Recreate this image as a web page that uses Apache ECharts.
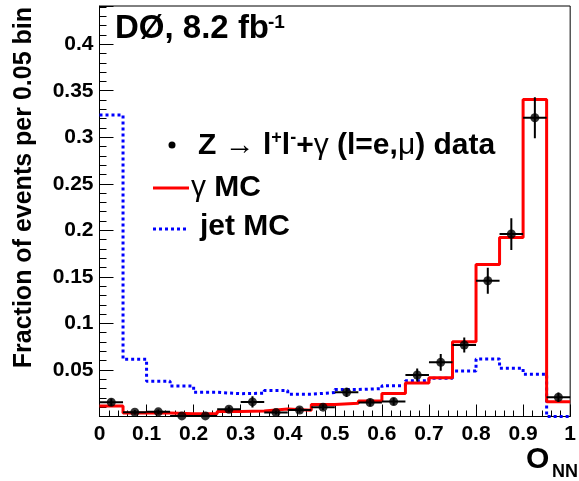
<!DOCTYPE html>
<html>
<head>
<meta charset="utf-8">
<script src="https://cdn.jsdelivr.net/npm/echarts@6/dist/echarts.min.js"></script>
<style>
html,body{margin:0;padding:0;background:#fff;}
#c{width:579px;height:481px;}
</style>
</head>
<body>
<div id="c"></div>
<script>
// Bin lower edges (bin width 0.05)
const binLow = [0, 0.05, 0.1, 0.15, 0.2, 0.25, 0.3, 0.35, 0.4, 0.45, 0.5, 0.55, 0.6, 0.65, 0.7, 0.75, 0.8, 0.85, 0.9, 0.95];
const binWidth = 0.05;
// gamma MC histogram
const gammaMC = [0.0112, 0.0038, 0.0038, 0.003, 0.003, 0.0053, 0.006, 0.008, 0.0068, 0.013, 0.0143, 0.0167, 0.0247, 0.036, 0.0415, 0.0804, 0.1634, 0.1924, 0.3405, 0.0158];
// jet MC histogram
const jetMC = [0.324, 0.0615, 0.038, 0.0328, 0.026, 0.0245, 0.025, 0.0278, 0.024, 0.0257, 0.029, 0.030, 0.033, 0.0385, 0.041, 0.049, 0.0618, 0.0518, 0.0454, 0];
// Z -> ll+gamma data and errors
const dataVals = [0.0153, 0.0046, 0.005, 0.0006, 0.0006, 0.0078, 0.0157, 0.0042, 0.007, 0.0100, 0.026, 0.015, 0.016, 0.0446, 0.0582, 0.0768, 0.1458, 0.196, 0.321, 0.0207];
const dataErrs = [0.004, 0.0025, 0.0025, 0.001, 0.001, 0.003, 0.006, 0.002, 0.003, 0.003, 0.005, 0.004, 0.004, 0.007, 0.009, 0.008, 0.014, 0.017, 0.022, 0.005];
// Axis ranges
const xRange = [0, 1];
const yRange = [0, 0.441];
const xTickStep = 0.1;
const yTickStep = 0.05;
// Texts
const yTitle = 'Fraction of events per 0.05 bin';
const xTitleMain = 'O';
const xTitleSub = 'NN';
const experimentLabel = 'DØ, 8.2 fb';
const expSup = '-1';
const legendGammaTxt = ' MC';
const legendJetTxt = 'jet MC';

function stepData(vals) {
  const out = binLow.map((x, i) => [x, vals[i]]);
  out.push([binLow[binLow.length - 1] + binWidth, vals[vals.length - 1]]);
  return out;
}
const pts = binLow.map((x, i) => [x + binWidth / 2, dataVals[i], dataErrs[i]]);

const FONT = '"Liberation Sans", Arial, Helvetica, sans-serif';
const chart = echarts.init(document.getElementById('c'), null, {renderer: 'canvas'});

const fmt = v => String(parseFloat(v.toFixed(3)));

chart.setOption({
  animation: false,
  backgroundColor: '#fff',
  grid: {left: 99.5, right: 2, top: 6, bottom: 64.5, show: true, borderColor: '#000', borderWidth: 1, backgroundColor: 'transparent'},
  xAxis: {
    type: 'value', min: xRange[0], max: xRange[1], interval: xTickStep,
    axisLine: {show: true, onZero: false, lineStyle: {color: '#000', width: 1}},
    axisTick: {show: true, inside: true, length: 12, lineStyle: {color: '#000', width: 1}},
    minorTick: {show: true, splitNumber: 5, length: 6, lineStyle: {color: '#000', width: 1}},
    splitLine: {show: false},
    axisLabel: {color: '#000', fontFamily: FONT, fontWeight: 'bold', fontSize: 21, margin: 7, formatter: fmt, showMaxLabel: true, showMinLabel: true}
  },
  yAxis: {
    type: 'value', min: yRange[0], max: yRange[1], interval: yTickStep,
    axisLine: {show: true, onZero: false, lineStyle: {color: '#000', width: 1}},
    axisTick: {show: true, inside: true, length: 14, lineStyle: {color: '#000', width: 1}},
    minorTick: {show: true, splitNumber: 5, length: 7, lineStyle: {color: '#000', width: 1}},
    splitLine: {show: false},
    axisLabel: {color: '#000', fontFamily: FONT, fontWeight: 'bold', fontSize: 21, margin: 6,
      formatter: v => (Math.abs(v) < 1e-9 ? '' : fmt(v)), showMaxLabel: false}
  },
  series: [
    {
      name: 'jet MC', type: 'line', step: 'end', data: stepData(jetMC), symbol: 'none', z: 2,
      lineStyle: {color: '#0000ff', width: 3, type: [3, 3], cap: 'butt'}
    },
    {
      name: 'gamma MC', type: 'line', step: 'end', data: stepData(gammaMC), symbol: 'none', z: 3,
      lineStyle: {color: '#ff0000', width: 3}
    },
    {
      name: 'data errors', type: 'custom', z: 4, clip: true,
      data: pts,
      renderItem: function (params, api) {
        const x = api.value(0), y = api.value(1), e = api.value(2);
        const l = api.coord([x - binWidth / 2, y]);
        const r = api.coord([x + binWidth / 2, y]);
        const t = api.coord([x, y + e]);
        const b = api.coord([x, Math.max(y - e, 0)]);
        const st = {stroke: '#000', lineWidth: 2};
        return {type: 'group', children: [
          {type: 'line', shape: {x1: l[0], y1: l[1], x2: r[0], y2: r[1]}, style: st},
          {type: 'line', shape: {x1: t[0], y1: t[1], x2: b[0], y2: b[1]}, style: st}
        ]};
      }
    },
    {
      name: 'data', type: 'scatter', z: 5, data: pts.map(p => [p[0], p[1]]),
      symbol: 'circle', symbolSize: 9, itemStyle: {color: '#000'}
    }
  ],
  graphic: [
    {type: 'text', x: 24, y: 7, rotation: Math.PI / 2,
      style: {text: yTitle, font: 'bold 25px ' + FONT, fill: '#000', textAlign: 'right', textVerticalAlign: 'middle'}},
    {type: 'text', x: 526, y: 460,
      style: {text: xTitleMain, font: 'bold 30px ' + FONT, fill: '#000', textAlign: 'left', textVerticalAlign: 'middle'}},
    {type: 'text', x: 552, y: 472,
      style: {text: xTitleSub, font: 'bold 18px ' + FONT, fill: '#000', textAlign: 'left', textVerticalAlign: 'middle'}},
    {type: 'text', x: 115, y: 29,
      style: {text: experimentLabel, font: 'bold 33px ' + FONT, fill: '#000', textAlign: 'left', textVerticalAlign: 'middle'}},
    {type: 'text', x: 268, y: 23,
      style: {text: expSup, font: 'bold 19px ' + FONT, fill: '#000', textAlign: 'left', textVerticalAlign: 'middle'}},
    // legend
    {type: 'circle', shape: {cx: 172, cy: 145, r: 3.5}, style: {fill: '#000'}},
    {type: 'text', x: 198, y: 145,
      style: {
        text: '{b|Z }{n|→ }{b|l}{s|+}{b|l}{s|-}{b|+}{n|γ}{b| (l=e,}{n|μ}{b|) data}',
        textAlign: 'left', textVerticalAlign: 'middle',
        rich: {
          b: {font: 'bold 30px ' + FONT, fill: '#000', lineHeight: 32, verticalAlign: 'bottom'},
          n: {font: '30px ' + FONT, fill: '#000', lineHeight: 32, verticalAlign: 'bottom'},
          s: {font: 'bold 18px ' + FONT, fill: '#000', lineHeight: 32, verticalAlign: 'top'}
        }
      }},
    {type: 'line', shape: {x1: 153, y1: 188, x2: 189, y2: 188}, style: {stroke: '#ff0000', lineWidth: 3}},
    {type: 'text', x: 191, y: 187,
      style: {
        text: '{n|γ}{b|' + legendGammaTxt + '}', textAlign: 'left', textVerticalAlign: 'middle',
        rich: {
          b: {font: 'bold 30px ' + FONT, fill: '#000', lineHeight: 32, verticalAlign: 'bottom'},
          n: {font: '30px ' + FONT, fill: '#000', lineHeight: 32, verticalAlign: 'bottom'}
        }
      }},
    {type: 'line', shape: {x1: 153, y1: 229, x2: 189, y2: 229}, style: {stroke: '#0000ff', lineWidth: 3, lineDash: [3, 3]}},
    {type: 'text', x: 200, y: 227,
      style: {text: legendJetTxt, font: 'bold 30px ' + FONT, fill: '#000', textAlign: 'left', textVerticalAlign: 'middle'}}
  ]
});
</script>
</body>
</html>
